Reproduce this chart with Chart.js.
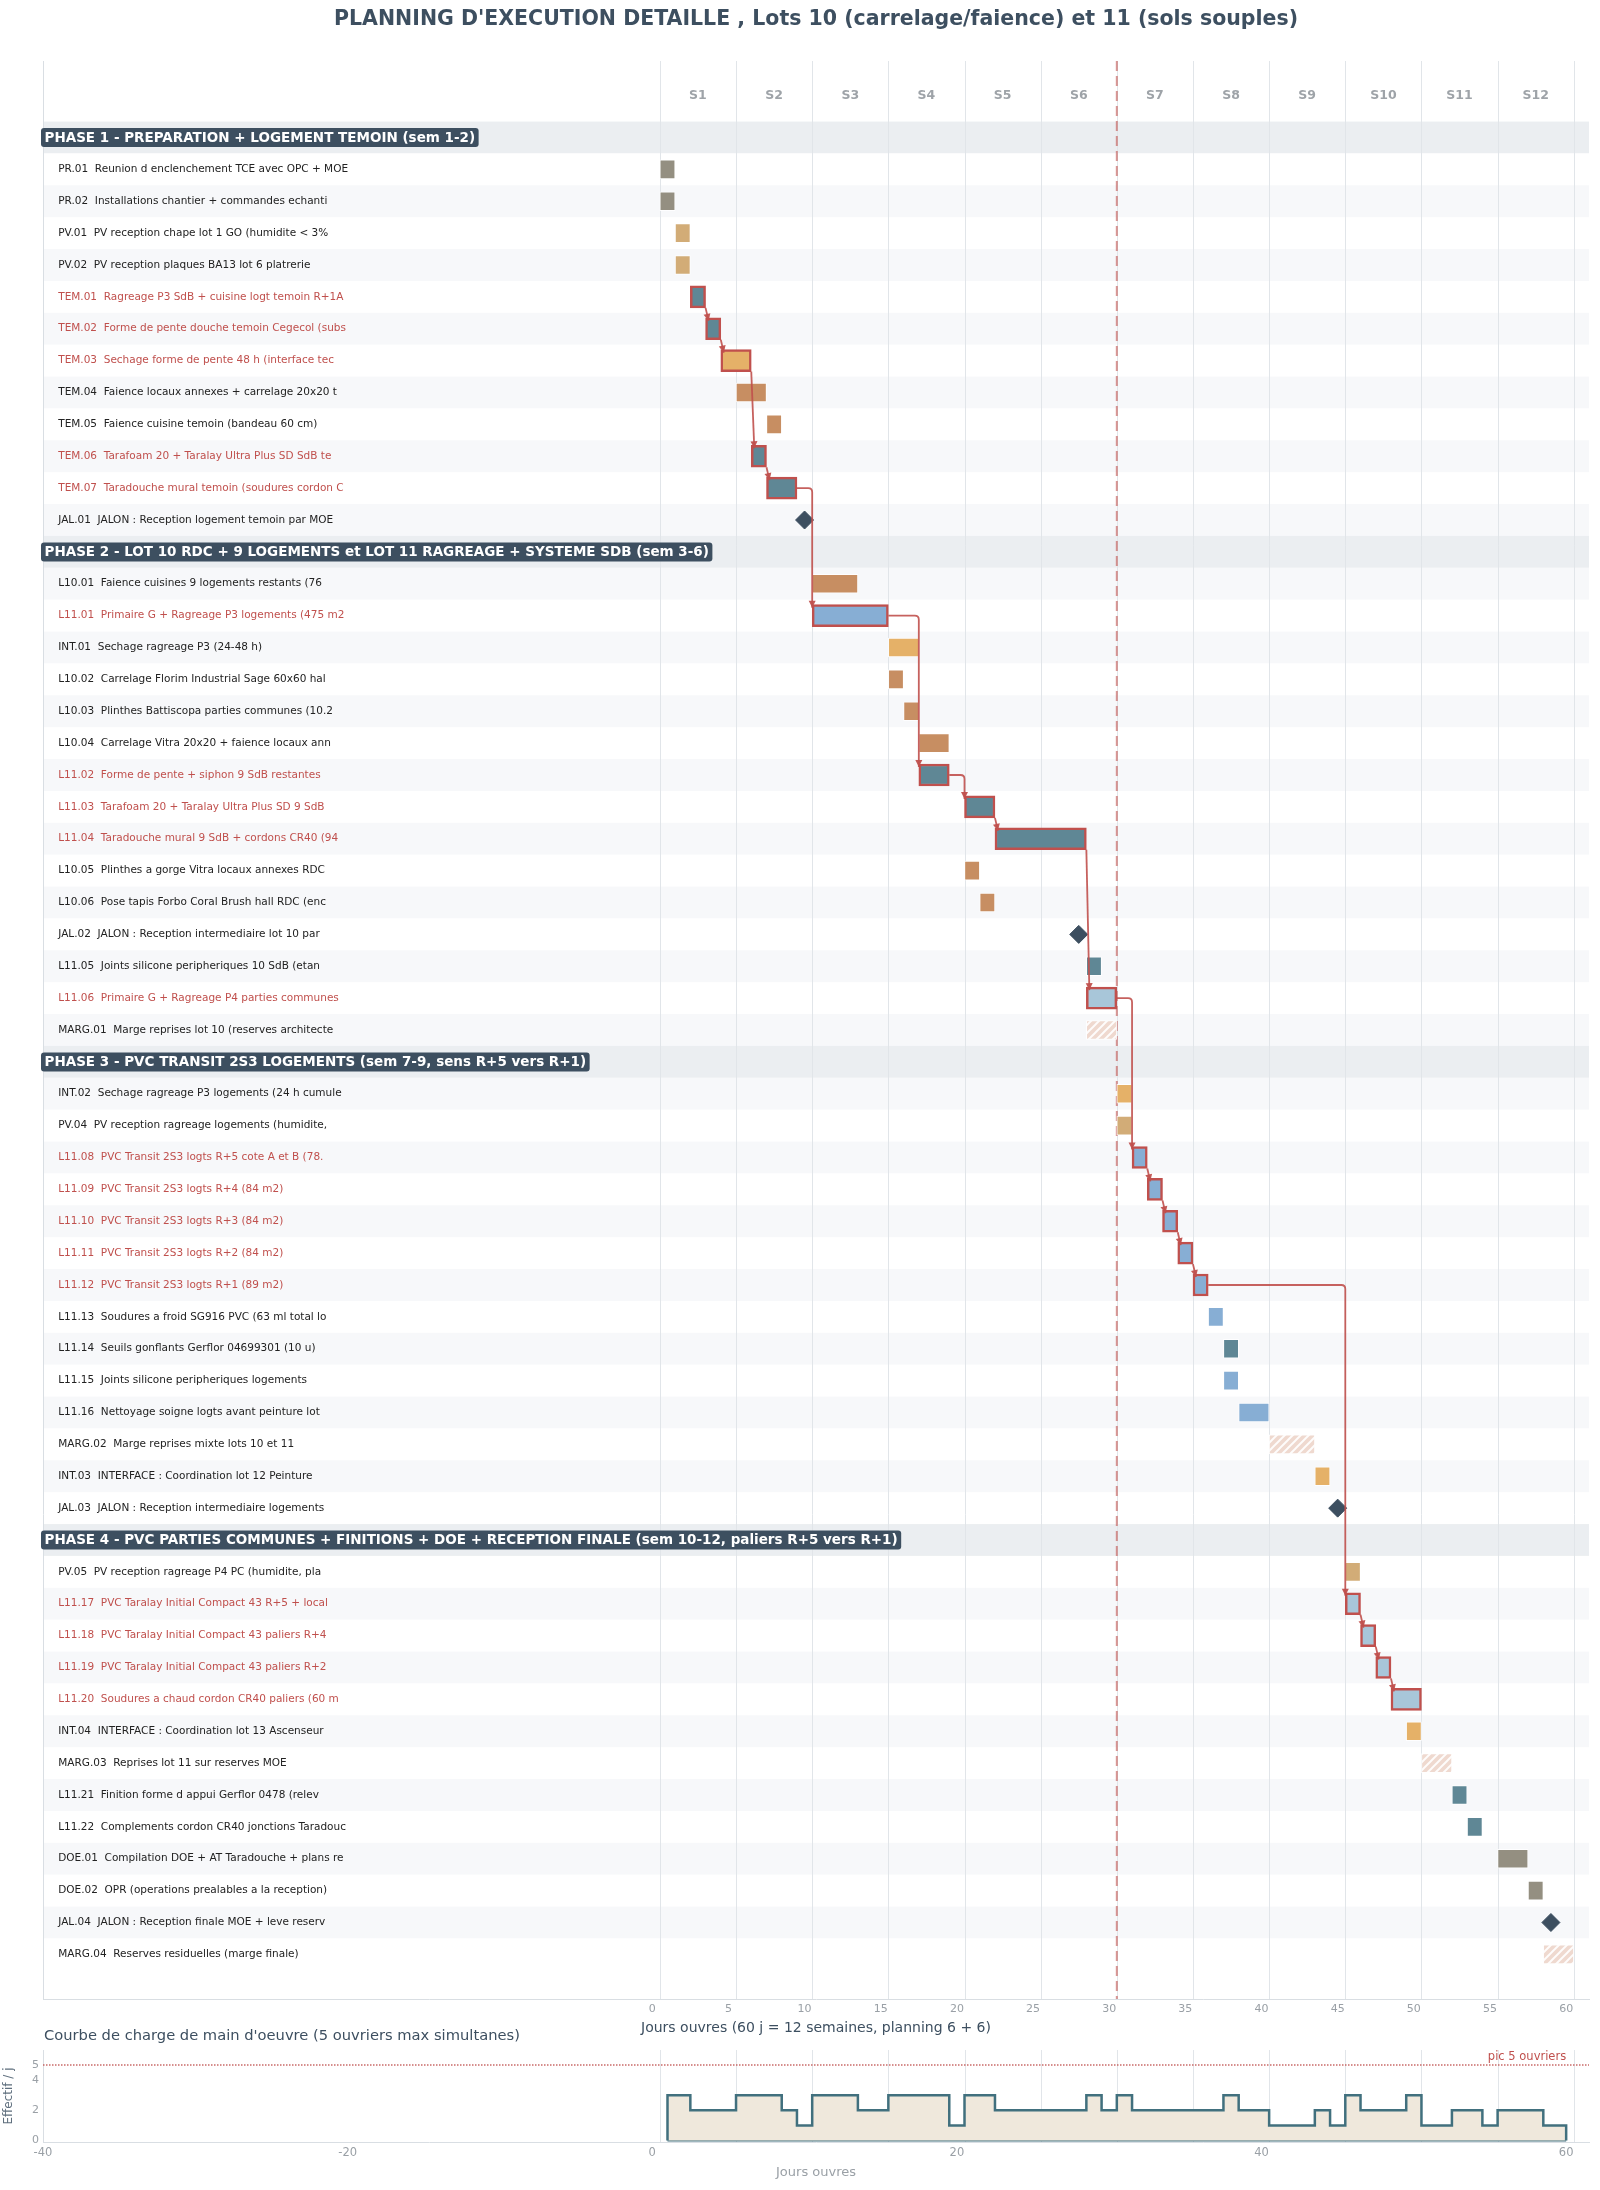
<!DOCTYPE html>
<html>
<head>
<meta charset="utf-8">
<title>Planning d'execution detaille - Lots 10 et 11</title>
<script src="https://cdn.jsdelivr.net/npm/chart.js@4.4.1/dist/chart.umd.min.js"></script>
<style>
  html, body { margin: 0; padding: 0; background: #ffffff; }
  #wrap { position: relative; width: 1600px; height: 2190px; }
  #gantt { position: absolute; left: 0; top: 0; }
  #charge { position: absolute; left: 0; top: 2025px; }
</style>
</head>
<body>
<div id="wrap">
  <canvas id="gantt" width="1600" height="2040"></canvas>
  <canvas id="charge" width="1600" height="165"></canvas>
</div>
<script>
/*------------------------------*/
/*            DONNEES           */
/*------------------------------*/
var phaseTitles = [
  'PHASE 1 - PREPARATION + LOGEMENT TEMOIN (sem 1-2)',
  'PHASE 2 - LOT 10 RDC + 9 LOGEMENTS et LOT 11 RAGREAGE + SYSTEME SDB (sem 3-6)',
  'PHASE 3 - PVC TRANSIT 2S3 LOGEMENTS (sem 7-9, sens R+5 vers R+1)',
  'PHASE 4 - PVC PARTIES COMMUNES + FINITIONS + DOE + RECEPTION FINALE (sem 10-12, paliers R+5 vers R+1)'
]

var taskPhase = [
  1,1,1,1,1,1,1,1,1,1,1,1,
  2,2,2,2,2,2,2,2,2,2,2,2,2,2,2,
  3,3,3,3,3,3,3,3,3,3,3,3,3,3,
  4,4,4,4,4,4,4,4,4,4,4,4,4
]

var taskCodes = [
  'PR.01','PR.02','PV.01','PV.02','TEM.01','TEM.02','TEM.03','TEM.04','TEM.05','TEM.06','TEM.07','JAL.01',
  'L10.01','L11.01','INT.01','L10.02','L10.03','L10.04','L11.02','L11.03','L11.04','L10.05','L10.06','JAL.02','L11.05','L11.06','MARG.01',
  'INT.02','PV.04','L11.08','L11.09','L11.10','L11.11','L11.12','L11.13','L11.14','L11.15','L11.16','MARG.02','INT.03','JAL.03',
  'PV.05','L11.17','L11.18','L11.19','L11.20','INT.04','MARG.03','L11.21','L11.22','DOE.01','DOE.02','JAL.04','MARG.04'
]

var taskNames = [
  'Reunion d enclenchement TCE avec OPC + MOE',
  'Installations chantier + commandes echanti',
  'PV reception chape lot 1 GO (humidite < 3%',
  'PV reception plaques BA13 lot 6 platrerie',
  'Ragreage P3 SdB + cuisine logt temoin R+1A',
  'Forme de pente douche temoin Cegecol (subs',
  'Sechage forme de pente 48 h (interface tec',
  'Faience locaux annexes + carrelage 20x20 t',
  'Faience cuisine temoin (bandeau 60 cm)',
  'Tarafoam 20 + Taralay Ultra Plus SD SdB te',
  'Taradouche mural temoin (soudures cordon C',
  'JALON : Reception logement temoin par MOE',
  'Faience cuisines 9 logements restants (76',
  'Primaire G + Ragreage P3 logements (475 m2',
  'Sechage ragreage P3 (24-48 h)',
  'Carrelage Florim Industrial Sage 60x60 hal',
  'Plinthes Battiscopa parties communes (10.2',
  'Carrelage Vitra 20x20 + faience locaux ann',
  'Forme de pente + siphon 9 SdB restantes',
  'Tarafoam 20 + Taralay Ultra Plus SD 9 SdB',
  'Taradouche mural 9 SdB + cordons CR40 (94',
  'Plinthes a gorge Vitra locaux annexes RDC',
  'Pose tapis Forbo Coral Brush hall RDC (enc',
  'JALON : Reception intermediaire lot 10 par',
  'Joints silicone peripheriques 10 SdB (etan',
  'Primaire G + Ragreage P4 parties communes',
  'Marge reprises lot 10 (reserves architecte',
  'Sechage ragreage P3 logements (24 h cumule',
  'PV reception ragreage logements (humidite,',
  'PVC Transit 2S3 logts R+5 cote A et B (78.',
  'PVC Transit 2S3 logts R+4 (84 m2)',
  'PVC Transit 2S3 logts R+3 (84 m2)',
  'PVC Transit 2S3 logts R+2 (84 m2)',
  'PVC Transit 2S3 logts R+1 (89 m2)',
  'Soudures a froid SG916 PVC (63 ml total lo',
  'Seuils gonflants Gerflor 04699301 (10 u)',
  'Joints silicone peripheriques logements',
  'Nettoyage soigne logts avant peinture lot',
  'Marge reprises mixte lots 10 et 11',
  'INTERFACE : Coordination lot 12 Peinture',
  'JALON : Reception intermediaire logements',
  'PV reception ragreage P4 PC (humidite, pla',
  'PVC Taralay Initial Compact 43 R+5 + local',
  'PVC Taralay Initial Compact 43 paliers R+4',
  'PVC Taralay Initial Compact 43 paliers R+2',
  'Soudures a chaud cordon CR40 paliers (60 m',
  'INTERFACE : Coordination lot 13 Ascenseur',
  'Reprises lot 11 sur reserves MOE',
  'Finition forme d appui Gerflor 0478 (relev',
  'Complements cordon CR40 jonctions Taradouc',
  'Compilation DOE + AT Taradouche + plans re',
  'OPR (operations prealables a la reception)',
  'JALON : Reception finale MOE + leve reserv',
  'Reserves residuelles (marge finale)'
]

// jour de debut (1 = premier jour ouvre) et duree en jours (0 = jalon)
var taskStart = [
  1,1,2,2,3,4,5,6,8,7,8,10,
  11,11,16,16,17,18,18,21,23,21,22,28,29,29,29,
  31,31,32,33,34,35,36,37,38,38,39,41,44,45,
  46,46,47,48,49,50,51,53,54,56,58,59,59
]
var taskDays = [
  1,1,1,1,1,1,2,2,1,1,2,0,
  3,5,2,1,1,2,2,2,6,1,1,0,1,2,2,
  1,1,1,1,1,1,1,1,1,1,2,3,1,0,
  1,1,1,1,2,1,2,1,1,2,1,0,2
]
var taskKind = [
  'prep','prep','pv','pv','sdb','sdb','int','l10','l10','sdb','sdb','jal',
  'l10','rag','int','l10','l10','l10','sdb','sdb','sdb','l10','l10','jal','sdb','pc','marg',
  'int','pv','rag','rag','rag','rag','rag','rag','sdb','rag','rag','marg','int','jal',
  'pv','pc','pc','pc','pc','int','marg','sdb','sdb','doe','doe','jal','marg'
]
var taskCritical = [
  0,0,0,0,1,1,1,0,0,1,1,0,
  0,1,0,0,0,0,1,1,1,0,0,0,0,1,0,
  0,0,1,1,1,1,1,0,0,0,0,0,0,0,
  0,1,1,1,1,0,0,0,0,0,0,0,0
]

var weekLabels = ['S1','S2','S3','S4','S5','S6','S7','S8','S9','S10','S11','S12']
var dayTicks = [0, 5, 10, 15, 20, 25, 30, 35, 40, 45, 50, 55, 60]
var milestoneWeekLine = 30.5   // fin de la 6e semaine (planning 6 + 6)

// courbe de charge : effectif par jour ouvre
var loadDays = [
  1,2,3,4,5,6,7,8,9,10,11,12,13,14,15,16,17,18,19,20,
  21,22,23,24,25,26,27,28,29,30,31,32,33,34,35,36,37,38,39,40,
  41,42,43,44,45,46,47,48,49,50,51,52,53,54,55,56,57,58,59,60
]
var loadWorkers = [
  3,3,2,2,2,3,3,3,2,1,3,3,3,2,2,3,3,3,3,1,
  3,3,2,2,2,2,2,2,3,2,3,2,2,2,2,2,2,3,2,2,
  1,1,1,2,1,3,2,2,2,3,1,1,2,2,1,2,2,2,1,1
]
var loadXTicks = [-40, -20, 0, 20, 40, 60]
var loadTicks = [0, 2, 4, 5]
var peakWorkers = 5

/*------------------------------*/
/*            STYLES            */
/*------------------------------*/
Chart.defaults.font.family = "'DejaVu Sans', 'Liberation Sans', sans-serif"

var kindColors = {
  prep: '#948f81', doe: '#948f81', pv: '#d2ac77', int: '#e5b168',
  l10: '#c78e62', sdb: '#5f8795', rag: '#87aed4', pc: '#a8c6d9'
}
var critRed = '#c0504d'
var slate = '#3d4f60'

function makeHatch() {
  var c = document.createElement('canvas')
  c.width = 8
  c.height = 8
  var g = c.getContext('2d')
  g.fillStyle = '#efd9cf'
  g.fillRect(0, 0, 8, 8)
  g.strokeStyle = 'rgba(255,255,255,0.9)'
  g.lineWidth = 2
  g.beginPath()
  g.moveTo(-1, 9); g.lineTo(9, -1)
  g.moveTo(-3, 3); g.lineTo(3, -3)
  g.moveTo(5, 11); g.lineTo(11, 5)
  g.stroke()
  return g.createPattern(c, 'repeat')
}

function fixedTicks(list) {
  return function (s) {
    s.ticks = list.map(function (v) { return { value: v } })
  }
}

/*------------------------------*/
/*       LIGNES DU PLANNING     */
/*------------------------------*/
var rows = []
var rowOfTask = []
var lastPhase = 0
for (var i = 0; i < taskCodes.length; i++) {
  if (taskPhase[i] !== lastPhase) {
    rows.push({ phase: taskPhase[i] })
    lastPhase = taskPhase[i]
  }
  rowOfTask.push(rows.length)
  rows.push({ task: i })
}

function barStart(i) { return taskStart[i] - 0.5 }
function barEnd(i) { return taskStart[i] - 0.5 + taskDays[i] }

var normalData = [], normalColors = []
var critData = [], critColors = []
var margData = [], jalData = []
for (var i = 0; i < taskCodes.length; i++) {
  var k = taskKind[i]
  if (k === 'jal') {
    jalData.push({ x: taskStart[i], y: rowOfTask[i] })
  } else if (k === 'marg') {
    margData.push({ x: [barStart(i), barEnd(i)], y: rowOfTask[i] })
  } else if (taskCritical[i]) {
    critData.push({ x: [barStart(i), barEnd(i)], y: rowOfTask[i] })
    critColors.push(kindColors[k])
  } else {
    normalData.push({ x: [barStart(i), barEnd(i)], y: rowOfTask[i] })
    normalColors.push(kindColors[k])
  }
}

/*------------------------------*/
/*    DECOR DU GANTT (plugin)   */
/*------------------------------*/
function drawArrow(ctx, x, y, ang) {
  var L = 7, W = 3.5
  var c = Math.cos(ang), s = Math.sin(ang)
  ctx.beginPath()
  ctx.moveTo(x, y)
  ctx.lineTo(x - L * c + W * s, y - L * s - W * c)
  ctx.lineTo(x - L * c - W * s, y - L * s + W * c)
  ctx.closePath()
  ctx.fill()
}

function roundRect(ctx, x, y, w, h, r) {
  ctx.beginPath()
  ctx.moveTo(x + r, y)
  ctx.lineTo(x + w - r, y)
  ctx.quadraticCurveTo(x + w, y, x + w, y + r)
  ctx.lineTo(x + w, y + h - r)
  ctx.quadraticCurveTo(x + w, y + h, x + w - r, y + h)
  ctx.lineTo(x + r, y + h)
  ctx.quadraticCurveTo(x, y + h, x, y + h - r)
  ctx.lineTo(x, y + r)
  ctx.quadraticCurveTo(x, y, x + r, y)
  ctx.closePath()
}

var ganttDecor = {
  id: 'ganttDecor',
  beforeDatasetsDraw: function (chart) {
    var ctx = chart.ctx, xs = chart.scales.x, ys = chart.scales.y, a = chart.chartArea
    ctx.save()
    // bandes des lignes
    rows.forEach(function (r, i) {
      var top = ys.getPixelForValue(i - 0.5), bot = ys.getPixelForValue(i + 0.5)
      ctx.fillStyle = r.phase ? '#ebeef1' : (i % 2 === 0 ? '#f7f8fa' : '#ffffff')
      ctx.fillRect(a.left, top, a.right - a.left, bot - top)
    })
    // limites de semaines
    ctx.strokeStyle = '#e1e5e9'
    ctx.lineWidth = 1
    for (var w = 0; w <= weekLabels.length; w++) {
      var px = Math.round(xs.getPixelForValue(0.5 + 5 * w)) + 0.5
      ctx.beginPath(); ctx.moveTo(px, a.top); ctx.lineTo(px, a.bottom); ctx.stroke()
    }
    // axe gauche
    ctx.strokeStyle = '#d9dee3'
    ctx.beginPath(); ctx.moveTo(a.left + 0.5, a.top); ctx.lineTo(a.left + 0.5, a.bottom); ctx.stroke()
    // mi-parcours
    ctx.strokeStyle = 'rgba(192,80,77,0.6)'
    ctx.lineWidth = 2
    ctx.setLineDash([10, 5])
    var mx = xs.getPixelForValue(milestoneWeekLine)
    ctx.beginPath(); ctx.moveTo(mx, a.top); ctx.lineTo(mx, a.bottom); ctx.stroke()
    ctx.setLineDash([])
    // libelles des semaines
    ctx.fillStyle = '#9ea3a8'
    ctx.font = "bold 12.5px 'DejaVu Sans'"
    ctx.textAlign = 'center'
    ctx.textBaseline = 'middle'
    weekLabels.forEach(function (lab, w) {
      ctx.fillText(lab, xs.getPixelForValue(3 + 5 * w), ys.getPixelForValue(-1.3))
    })
    ctx.restore()
  },
  afterDatasetsDraw: function (chart) {
    var ctx = chart.ctx, xs = chart.scales.x, ys = chart.scales.y, a = chart.chartArea
    ctx.save()
    // liens du chemin critique
    var chain = []
    for (var i = 0; i < taskCritical.length; i++) if (taskCritical[i]) chain.push(i)
    ctx.strokeStyle = 'rgba(192,80,77,0.9)'
    ctx.fillStyle = 'rgba(192,80,77,0.95)'
    ctx.lineWidth = 1.8
    for (var k = 1; k < chain.length; k++) {
      var p = chain[k - 1], n = chain[k]
      var xe = xs.getPixelForValue(barEnd(p)), yp = ys.getPixelForValue(rowOfTask[p])
      var xn = xs.getPixelForValue(barStart(n)), yn = ys.getPixelForValue(rowOfTask[n]) - 8
      if (barStart(n) - barEnd(p) > 0.25) {
        ctx.beginPath()
        ctx.moveTo(xe, yp)
        ctx.lineTo(xn - 4, yp)
        ctx.quadraticCurveTo(xn, yp, xn, yp + 4)
        ctx.lineTo(xn, yn)
        ctx.stroke()
        drawArrow(ctx, xn, yn, Math.PI / 2)
      } else {
        var y0 = yp + 11, x1 = xn + 3
        ctx.beginPath(); ctx.moveTo(xe, y0); ctx.lineTo(x1, yn); ctx.stroke()
        drawArrow(ctx, x1, yn, Math.atan2(yn - y0, x1 - xe))
      }
    }
    // libelles des lignes
    var lx = xs.getPixelForValue(-39)
    ctx.textBaseline = 'middle'
    ctx.textAlign = 'left'
    rows.forEach(function (r, i) {
      var y = ys.getPixelForValue(i)
      if (r.phase) {
        var txt = phaseTitles[r.phase - 1]
        ctx.font = "bold 13.5px 'DejaVu Sans'"
        var tw = ctx.measureText(txt).width
        ctx.fillStyle = slate
        roundRect(ctx, a.left - 2, y - 9.5, tw + 7, 19, 3)
        ctx.fill()
        ctx.fillStyle = '#ffffff'
        ctx.fillText(txt, a.left + 1.5, y + 0.5)
      } else {
        var t = r.task
        ctx.font = "10.5px 'DejaVu Sans'"
        ctx.fillStyle = taskCritical[t] ? critRed : '#222222'
        ctx.fillText(taskCodes[t] + '  ' + taskNames[t], lx, y)
      }
    })
    ctx.restore()
  }
}

/*------------------------------*/
/*        GRAPHIQUE GANTT       */
/*------------------------------*/
var ctx_gantt = document.getElementById('gantt').getContext('2d')
var hatch = makeHatch()

var config_gantt = {
  type: 'bar',
  data: {
    datasets: [
      {
        type: 'scatter',
        data: jalData,
        pointStyle: 'rectRot',
        pointRadius: 9,
        backgroundColor: slate,
        borderColor: slate,
        borderWidth: 1
      },
      {
        type: 'bar',
        indexAxis: 'y',
        data: critData,
        backgroundColor: critColors,
        borderColor: critRed,
        borderWidth: 2.5,
        borderSkipped: false,
        barThickness: 22,
        grouped: false
      },
      {
        type: 'bar',
        indexAxis: 'y',
        data: normalData,
        backgroundColor: normalColors,
        borderColor: 'rgba(255,255,255,0.85)',
        borderWidth: 1,
        borderSkipped: false,
        barThickness: 19,
        grouped: false
      },
      {
        type: 'bar',
        indexAxis: 'y',
        data: margData,
        backgroundColor: hatch,
        borderColor: 'rgba(255,255,255,0.9)',
        borderWidth: 1,
        borderSkipped: false,
        barThickness: 19,
        grouped: false
      }
    ]
  },
  options: {
    responsive: false,
    animation: false,
    layout: { padding: { left: 43, right: 11, top: 0, bottom: 0 } },
    plugins: {
      legend: { display: false },
      tooltip: { enabled: false },
      title: {
        display: true,
        text: "PLANNING D'EXECUTION DETAILLE , Lots 10 (carrelage/faience) et 11 (sols souples)",
        color: slate,
        font: { size: 20.5, weight: 'bold' },
        padding: { top: 7, bottom: 29.4 }
      }
    },
    scales: {
      x: {
        type: 'linear',
        position: 'bottom',
        offset: false,
        min: -40,
        max: 61.5,
        afterBuildTicks: fixedTicks(dayTicks),
        afterFit: function (s) { s.height = 41 },
        ticks: { color: '#9aa0a6', font: { size: 11 }, padding: 4, maxRotation: 0, autoSkip: false },
        grid: { display: false, drawTicks: false, offset: false },
        border: { display: true, color: '#d9dee3' },
        title: {
          display: true,
          text: 'Jours ouvres (60 j = 12 semaines, planning 6 + 6)',
          color: slate,
          font: { size: 14 },
          padding: { top: 2, bottom: 3 }
        }
      },
      y: { type: 'linear', offset: false, grid: { offset: false }, min: -2.4, max: 58.4, reverse: true, display: false }
    }
  },
  plugins: [ganttDecor]
}
var graph_gantt = new Chart(ctx_gantt, config_gantt)

/*------------------------------*/
/*      COURBE DE CHARGE        */
/*------------------------------*/
var loadPoints = [{ x: loadDays[0], y: 0 }]
for (var d = 0; d < loadDays.length; d++) loadPoints.push({ x: loadDays[d], y: loadWorkers[d] })
loadPoints.push({ x: loadDays[loadDays.length - 1], y: 0 })
var basePoints = [{ x: loadDays[0], y: 0 }, { x: loadDays[loadDays.length - 1], y: 0 }]

var chargeDecor = {
  id: 'chargeDecor',
  beforeDatasetsDraw: function (chart) {
    var ctx = chart.ctx, xs = chart.scales.x, a = chart.chartArea
    ctx.save()
    ctx.strokeStyle = '#e1e5e9'
    ctx.lineWidth = 1
    for (var w = 0; w <= weekLabels.length; w++) {
      var px = Math.round(xs.getPixelForValue(0.5 + 5 * w)) + 0.5
      ctx.beginPath(); ctx.moveTo(px, a.top); ctx.lineTo(px, a.bottom); ctx.stroke()
    }
    ctx.restore()
  },
  afterDatasetsDraw: function (chart) {
    var ctx = chart.ctx, ys = chart.scales.y, a = chart.chartArea
    ctx.save()
    var py = ys.getPixelForValue(peakWorkers)
    ctx.strokeStyle = 'rgba(192,80,77,0.85)'
    ctx.lineWidth = 1.5
    ctx.setLineDash([1.5, 1.5])
    ctx.beginPath(); ctx.moveTo(a.left, py); ctx.lineTo(a.right, py); ctx.stroke()
    ctx.setLineDash([])
    ctx.fillStyle = critRed
    ctx.font = "11.5px 'DejaVu Sans'"
    ctx.textAlign = 'right'
    ctx.textBaseline = 'bottom'
    ctx.fillText('pic ' + peakWorkers + ' ouvriers', chart.scales.x.getPixelForValue(60), py - 2)
    ctx.fillStyle = slate
    ctx.font = "14.7px 'DejaVu Sans'"
    ctx.textAlign = 'left'
    ctx.textBaseline = 'middle'
    ctx.fillText("Courbe de charge de main d'oeuvre (5 ouvriers max simultanes)", 44, 11)
    ctx.restore()
  }
}

var ctx_charge = document.getElementById('charge').getContext('2d')
var config_charge = {
  type: 'line',
  data: {
    datasets: [
      {
        data: loadPoints,
        stepped: 'middle',
        borderColor: '#41707e',
        borderWidth: 2.5,
        backgroundColor: '#efe8dc',
        fill: 'origin',
        pointRadius: 0
      },
      {
        data: basePoints,
        borderColor: '#41707e',
        borderWidth: 2,
        pointRadius: 0,
        fill: false
      }
    ]
  },
  options: {
    responsive: false,
    animation: false,
    layout: { padding: { left: 0, right: 11, top: 25, bottom: 0 } },
    plugins: { legend: { display: false }, tooltip: { enabled: false } },
    scales: {
      x: {
        type: 'linear',
        offset: false,
        min: -40,
        max: 61.5,
        afterBuildTicks: fixedTicks(loadXTicks),
        afterFit: function (s) { s.height = 48 },
        ticks: { color: '#9aa0a6', font: { size: 11.5 }, padding: 4, maxRotation: 0, autoSkip: false },
        grid: { display: false, drawTicks: false },
        border: { display: true, color: '#d9dee3' },
        title: { display: true, text: 'Jours ouvres', color: '#9aa0a6', font: { size: 13 }, padding: { top: 2, bottom: 10 } }
      },
      y: {
        type: 'linear',
        offset: false,
        min: -0.1,
        max: 6,
        afterBuildTicks: fixedTicks(loadTicks),
        afterFit: function (s) { s.width = 43 },
        ticks: { color: '#9aa0a6', font: { size: 11 }, padding: 4 },
        grid: { display: false, drawTicks: false },
        border: { display: true, color: '#d9dee3' },
        title: { display: true, text: 'Effectif / j', color: '#5f6f7e', font: { size: 12 }, padding: { top: 2, bottom: 2 } }
      }
    }
  },
  plugins: [chargeDecor]
}
var graph_charge = new Chart(ctx_charge, config_charge)
</script>
</body>
</html>
